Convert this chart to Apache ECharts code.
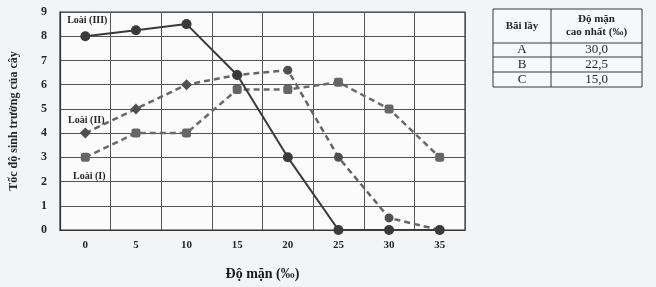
<!DOCTYPE html>
<html><head><meta charset="utf-8">
<script src="https://cdn.jsdelivr.net/npm/echarts@6/dist/echarts.min.js"></script>
<style>html,body{margin:0;padding:0;background:#f3f4f5}#c{width:656px;height:287px}</style>
</head><body><div id="c"></div>
<script>
const salinity = ['0','5','10','15','20','25','30','35'];
const speciesIII = [8, 8.25, 8.5, 6.4, 3, 0, 0, 0];
const speciesII = [4, 5, 6, 6.4, 6.6, 3, 0.5, 0];
const speciesI = [3, 4, 4, 5.8, 5.8, 6.1, 5, 3];
const seriesNames = ['Loài (III)', 'Loài (II)', 'Loài (I)'];
const yTicks = [0,1,2,3,4,5,6,7,8,9];
const tableHeader = ['Bãi lầy', 'Độ mặn\ncao nhất (‰)'];
const tableSites = ['A', 'B', 'C'];
const tableMaxSalinity = ['30,0', '22,5', '15,0'];

const font = '"Liberation Serif", "DejaVu Serif", serif';
const txt = '#262626';
const chart = echarts.init(document.getElementById('c'));

function withLabel(arr, name, offset) {
  return arr.map((v, i) => i === 0 ? {
    value: v,
    label: { show: true, formatter: name, position: 'inside', offset: offset,
      fontFamily: font, fontWeight: 'bold', fontSize: 10, color: txt }
  } : v);
}

// table graphic
const tx0 = 493, tx1 = 642, tc = 551;
const rowsY = [9, 43, 57, 72, 87];
const g = [];
g.push({ type: 'rect', shape: { x: tx0, y: rowsY[0], width: tx1 - tx0, height: rowsY[4] - rowsY[0] },
  style: { fill: '#f7f8f9', stroke: '#3a3a3a', lineWidth: 1 } });
g.push({ type: 'line', shape: { x1: tc, y1: rowsY[0], x2: tc, y2: rowsY[4] }, style: { stroke: '#3a3a3a', lineWidth: 1 } });
for (let i = 1; i < 4; i++) g.push({ type: 'line', shape: { x1: tx0, y1: rowsY[i], x2: tx1, y2: rowsY[i] }, style: { stroke: '#3a3a3a', lineWidth: 1 } });
g.push({ type: 'text', x: (tx0 + tc) / 2, y: (rowsY[0] + rowsY[1]) / 2, style: { text: tableHeader[0], align: 'center', verticalAlign: 'middle', font: 'bold 11px ' + font, fill: txt } });
g.push({ type: 'text', x: (tc + tx1) / 2, y: (rowsY[0] + rowsY[1]) / 2, style: { text: tableHeader[1], align: 'center', verticalAlign: 'middle', font: 'bold 11px ' + font, fill: txt, lineHeight: 13 } });
for (let i = 0; i < 3; i++) {
  const cy = (rowsY[i + 1] + rowsY[i + 2]) / 2;
  g.push({ type: 'text', x: (tx0 + tc) / 2, y: cy, style: { text: tableSites[i], align: 'center', verticalAlign: 'middle', font: '13px ' + font, fill: txt } });
  g.push({ type: 'text', x: (tc + tx1) / 2, y: cy, style: { text: tableMaxSalinity[i], align: 'center', verticalAlign: 'middle', font: '13px ' + font, fill: txt } });
}

chart.setOption({
  backgroundColor: '#f3f4f5',
  animation: false,
  grid: { left: 58, right: 191, top: 12, bottom: 57, show: true, backgroundColor: '#fbfbfb', borderColor: '#333', borderWidth: 1.2 },
  xAxis: {
    type: 'category', data: salinity, boundaryGap: true,
    name: 'Độ mặn (‰)', nameLocation: 'middle', nameGap: 37,
    nameTextStyle: { fontFamily: font, fontWeight: 'bold', fontSize: 14, color: '#1a1a1a' },
    axisLine: { show: true, lineStyle: { color: '#333', width: 1.2 } },
    axisTick: { show: false },
    axisLabel: { fontFamily: font, fontWeight: 'bold', fontSize: 11, color: txt, margin: 10 },
    splitLine: { show: true, interval: 0, lineStyle: { color: '#555', width: 1 } }
  },
  yAxis: {
    type: 'value', min: 0, max: 9, interval: 1,
    name: 'Tốc độ sinh trưởng của cây', nameLocation: 'middle', nameGap: 40, nameRotate: 90,
    nameTextStyle: { fontFamily: font, fontWeight: 'bold', fontSize: 12, color: txt },
    axisLine: { show: true, lineStyle: { color: '#333', width: 1.2 } },
    axisTick: { show: false },
    axisLabel: { fontFamily: font, fontWeight: 'bold', fontSize: 12, color: txt, margin: 13,
      formatter: v => yTicks.includes(v) ? String(v) : '' },
    splitLine: { show: true, lineStyle: { color: '#555', width: 1 } }
  },
  series: [
    { name: seriesNames[0], type: 'line', data: withLabel(speciesIII, seriesNames[0], [2, -16]),
      symbol: 'circle', symbolSize: 10, itemStyle: { color: '#3a3a3a' },
      lineStyle: { color: '#3a3a3a', width: 2, type: 'solid' }, z: 3 },
    { name: seriesNames[1], type: 'line', data: withLabel(speciesII, seriesNames[1], [1, -13]),
      symbol: (v, p) => p.dataIndex >= 4 ? 'circle' : 'diamond', symbolSize: (v, p) => p.dataIndex >= 4 ? 9 : 11,
      itemStyle: { color: '#4f4f4f' },
      lineStyle: { color: '#666', width: 2.5, type: [6, 4] }, z: 2 },
    { name: seriesNames[2], type: 'line', data: withLabel(speciesI, seriesNames[2], [4, 19]),
      symbol: 'roundRect', symbolSize: 9, itemStyle: { color: '#666' },
      lineStyle: { color: '#6a6a6a', width: 2.5, type: [6, 4] }, z: 2 }
  ],
  graphic: g
});
</script></body></html>
